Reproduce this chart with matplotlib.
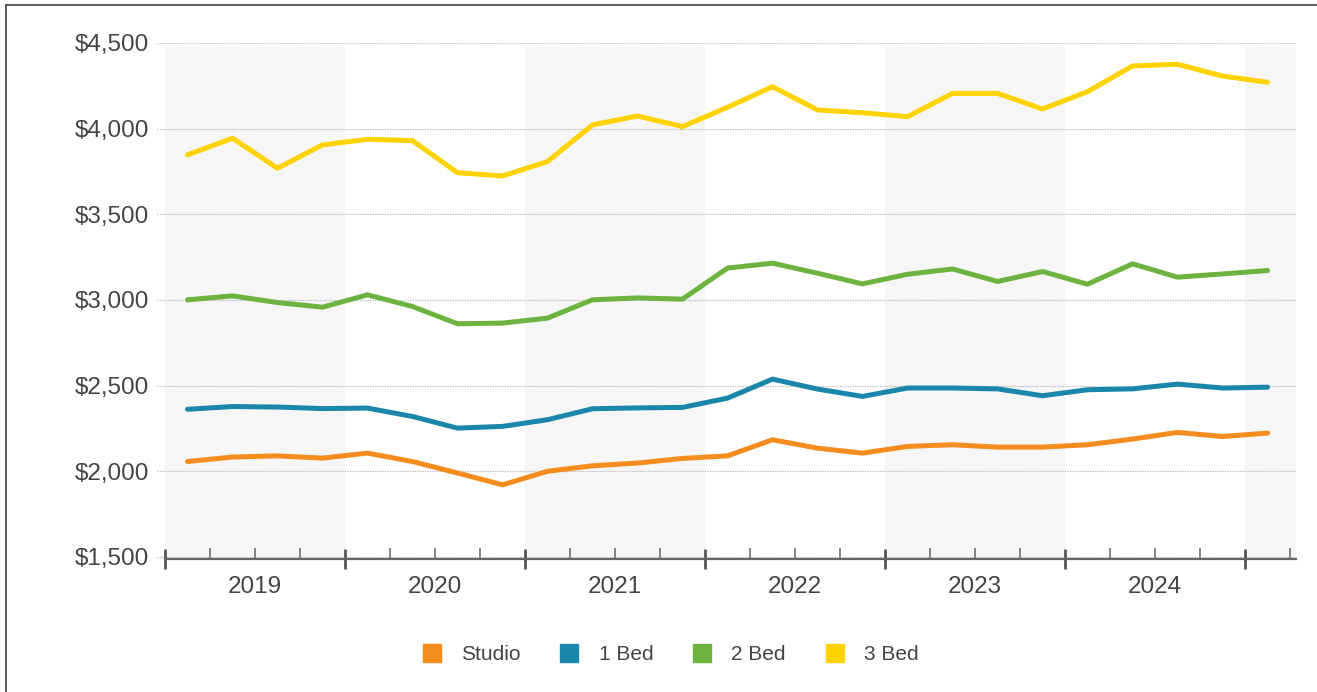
import numpy as np
import matplotlib
matplotlib.use('Agg')
import matplotlib.pyplot as plt
from matplotlib.lines import Line2D
from matplotlib.ticker import FixedLocator, FixedFormatter, FuncFormatter

plt.rcParams['font.family'] = ['Liberation Sans', 'DejaVu Sans']

# Quarterly average rents, 2019 Q1 .. 2025 Q1
years = [2019, 2020, 2021, 2022, 2023, 2024]
studio = [2057, 2083, 2090, 2077, 2106, 2057, 1990, 1921, 2000, 2032, 2048, 2075,
          2090, 2184, 2135, 2106, 2145, 2155, 2141, 2141, 2155, 2188, 2227, 2203, 2223]
bed1 = [2362, 2378, 2375, 2366, 2369, 2320, 2252, 2262, 2301, 2365, 2370, 2373,
        2427, 2538, 2480, 2437, 2486, 2486, 2481, 2441, 2476, 2481, 2509, 2486, 2491]
bed2 = [3001, 3024, 2985, 2958, 3030, 2962, 2861, 2865, 2894, 3001, 3012, 3005,
        3186, 3215, 3156, 3094, 3150, 3181, 3108, 3166, 3092, 3211, 3133, 3152, 3172]
bed3 = [3847, 3944, 3769, 3905, 3938, 3930, 3743, 3724, 3808, 4022, 4074, 4012,
        4125, 4245, 4109, 4093, 4070, 4206, 4206, 4115, 4216, 4366, 4376, 4307, 4271]

series = [('Studio', studio, '#F48C1E'),
          ('1 Bed', bed1, '#1A86AA'),
          ('2 Bed', bed2, '#6DB33F'),
          ('3 Bed', bed3, '#FFD200')]

# points sit in the middle of each quarter
x = 2019 + 0.125 + 0.25 * np.arange(len(studio))

fig = plt.figure(figsize=(13.17, 6.92), dpi=100)
ax = fig.add_axes([157 / 1317, 1 - 559 / 692, (1296 - 157) / 1317, (559 - 43) / 692])

x_lo, x_hi = 2019 - 8 / 180, 2019 + 1131 / 180
ax.set_xlim(x_lo, x_hi)
ax.set_ylim(1488, 4500)

# alternating year bands
for start in [2019, 2021, 2023, 2025]:
    ax.axvspan(start, min(start + 1, x_hi), ymin=0, ymax=0.992, color='#f6f6f6', lw=0, zorder=0)

for v in range(1500, 4501, 500):
    ax.axhline(v, color='#b8b8b8', lw=0.9, ls=(0, (1, 1)), zorder=1)

for name, vals, col in series:
    ax.plot(x, vals, color=col, lw=3.6, solid_capstyle='round', solid_joinstyle='round', zorder=3)

for s in ['top', 'right', 'left']:
    ax.spines[s].set_visible(False)
ax.spines['bottom'].set_bounds(2019, x_hi)
ax.spines['bottom'].set_color('#666666')
ax.spines['bottom'].set_linewidth(1.6)

ax.set_yticks(range(1500, 4501, 500))
ax.yaxis.set_major_formatter(FuncFormatter(lambda v, p: '${:,.0f}'.format(v)))
ax.tick_params(axis='y', length=0, pad=6, labelsize=17.5, labelcolor='#444444')

major = list(range(2019, 2026))
minor = [y + q for y in range(2019, 2026) for q in (0.25, 0.5, 0.75) if y + q < x_hi]
minor_labels = [str(int(m)) if (m % 1 == 0.5 and int(m) in years) else '' for m in minor]
ax.xaxis.set_major_locator(FixedLocator(major))
ax.xaxis.set_major_formatter(FixedFormatter([''] * len(major)))
ax.xaxis.set_minor_locator(FixedLocator(minor))
ax.xaxis.set_minor_formatter(FixedFormatter(minor_labels))
ax.tick_params(axis='x', which='major', direction='inout', length=14, width=2, color='#555555')
ax.tick_params(axis='x', which='minor', direction='in', length=8, width=1.1, color='#666666',
               pad=12, labelsize=17.5, labelcolor='#444444')

handles = [Line2D([], [], ls='none', marker='s', markersize=12.5, color=c, label=n)
           for n, _, c in series]
fig.legend(handles=handles, loc='center', bbox_to_anchor=(670 / 1317, 1 - 655 / 692),
           ncol=4, frameon=False, fontsize=15, handlelength=1.0, handletextpad=0.9,
           columnspacing=1.85, labelcolor='#444444')

# thin frame on the top and left edges
fig.add_artist(Line2D([6 / 1317, 1], [1 - 5 / 692, 1 - 5 / 692], color='#444444', lw=1.2,
                      transform=fig.transFigure))
fig.add_artist(Line2D([6 / 1317, 6 / 1317], [0, 1 - 5 / 692], color='#444444', lw=1.2,
                      transform=fig.transFigure))

fig.savefig('out.png', dpi=100)
